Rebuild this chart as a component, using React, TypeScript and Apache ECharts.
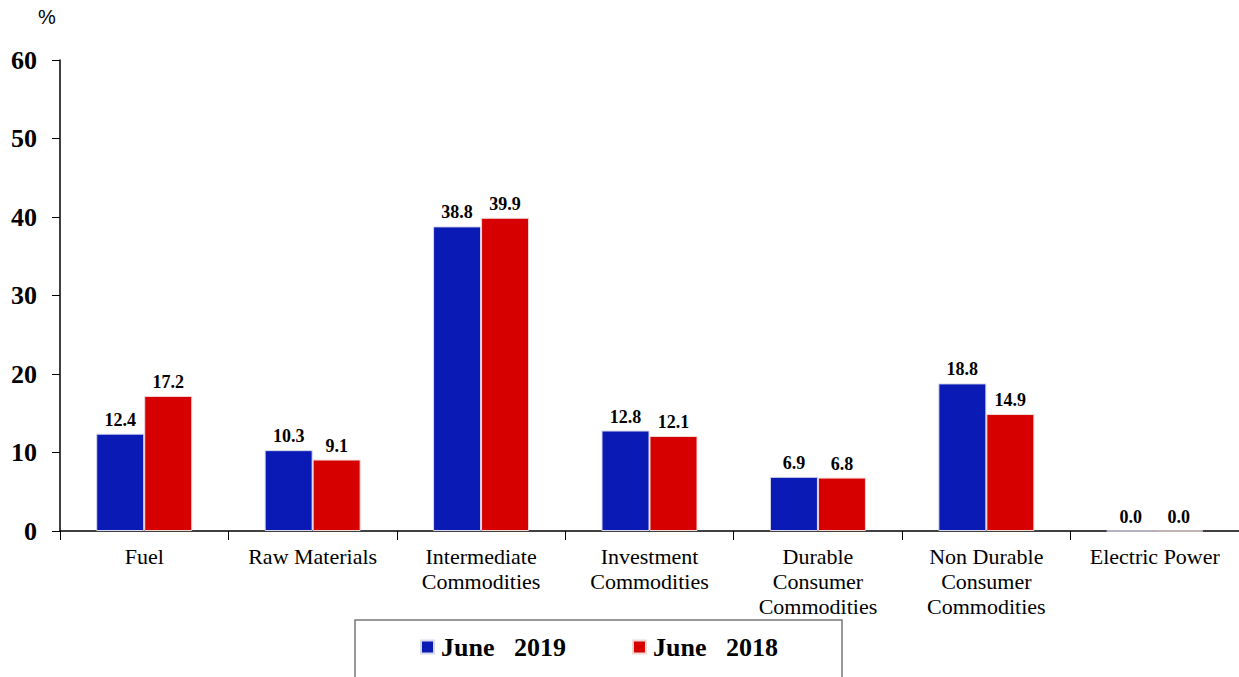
import React, { useEffect, useRef } from "react";
import * as echarts from "echarts";

const categories = [
  "Fuel",
  "Raw Materials",
  "Intermediate\nCommodities",
  "Investment\nCommodities",
  "Durable\nConsumer\nCommodities",
  "Non Durable\nConsumer\nCommodities",
  "Electric Power",
];
const june2019 = [12.4, 10.3, 38.8, 12.8, 6.9, 18.8, 0.0];
const june2018 = [17.2, 9.1, 39.9, 12.1, 6.8, 14.9, 0.0];
const seriesNames = ["June   2019", "June   2018"];
const yTicks = [0, 10, 20, 30, 40, 50, 60];

const FONT = "'Liberation Serif', 'Times New Roman', serif";

export default function App() {
  const ref = useRef<HTMLDivElement>(null);
  useEffect(() => {
    if (!ref.current) return;
    const chart = echarts.init(ref.current, undefined, { renderer: "svg" });
    const labelStyle = {
      show: true,
      position: "top" as const,
      distance: 5,
      formatter: (p: any) => p.value.toFixed(1),
      fontFamily: FONT,
      fontWeight: "bold" as const,
      fontSize: 18,
      color: "#000",
    };
    chart.setOption({
      animation: false,
      backgroundColor: "#fff",
      grid: { left: 60, right: 0, top: 60, bottom: 146, containLabel: false },
      legend: {
        left: 415,
        top: 629,
        itemWidth: 13,
        itemHeight: 13,
        itemGap: 66,
        icon: "rect",
        textStyle: {
          fontFamily: FONT,
          fontWeight: "bold",
          fontSize: 26,
          color: "#000",
          padding: [0, 0, 0, 2],
        },
        data: seriesNames,
      },
      graphic: [
        {
          type: "rect",
          shape: { x: 355, y: 620, width: 487, height: 70 },
          style: { fill: "none", stroke: "#777", lineWidth: 1.5 },
          z: 1,
        },
        {
          type: "text",
          left: 38,
          top: 7,
          style: {
            text: "%",
            fontFamily: "'Liberation Sans', Arial, sans-serif",
            fontSize: 20,
            fill: "#000",
          },
        },
      ],
      xAxis: {
        type: "category",
        data: categories,
        axisLine: { lineStyle: { color: "#000", width: 1.5 } },
        axisTick: { show: true, length: 9, alignWithLabel: false, lineStyle: { color: "#000" } },
        axisLabel: {
          fontFamily: FONT,
          fontSize: 22,
          color: "#000",
          margin: 13,
          lineHeight: 25,
          interval: 0,
        },
      },
      yAxis: {
        type: "value",
        min: 0,
        max: 60,
        interval: 10,
        axisLine: { show: true, lineStyle: { color: "#000", width: 1.5 } },
        axisTick: { show: true, length: 8, lineStyle: { color: "#000" } },
        splitLine: { show: false },
        axisLabel: {
          fontFamily: FONT,
          fontWeight: "bold",
          fontSize: 26,
          color: "#000",
          margin: 23,
          formatter: (v: number) => (yTicks.includes(v) ? String(v) : ""),
        },
      },
      series: [
        {
          name: seriesNames[0],
          type: "bar",
          data: june2019,
          barWidth: 48,
          barGap: "0%",
          itemStyle: { color: "#0A1AB4", borderColor: "#d8d8ee", borderWidth: 1 },
          label: labelStyle,
        },
        {
          name: seriesNames[1],
          type: "bar",
          data: june2018,
          barWidth: 48,
          barGap: "0%",
          itemStyle: { color: "#D70000", borderColor: "#eed8d8", borderWidth: 1 },
          label: labelStyle,
        },
      ],
    });
    return () => chart.dispose();
  }, []);
  return <div ref={ref} style={{ width: 1239, height: 677, position: "absolute", left: 0, top: 0 }} />;
}
